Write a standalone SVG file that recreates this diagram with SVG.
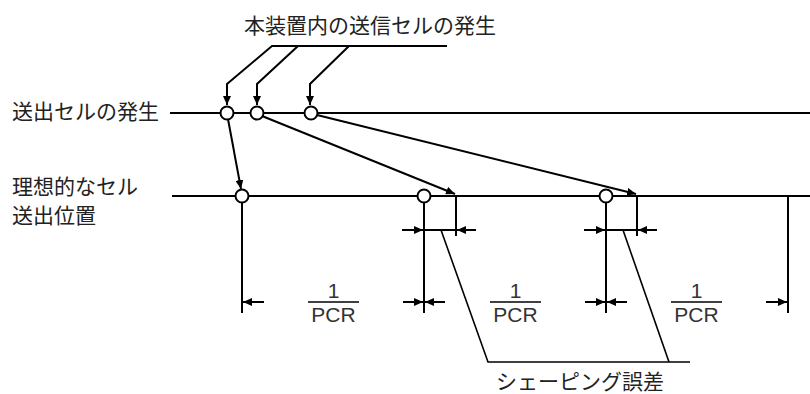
<svg xmlns="http://www.w3.org/2000/svg" width="810" height="394" viewBox="0 0 810 394">
<style>
.ln{stroke:#000;stroke-width:2;fill:none}
.th{stroke:#000;stroke-width:1.6;fill:none}
.ev{stroke:#000;stroke-width:2;fill:#fff}
.jp{font-family:"Noto Sans CJK JP","Noto Sans",sans-serif;font-size:21px;fill:#222}
.num{font-family:"Liberation Sans",Arial,sans-serif;font-size:21px;fill:#333;text-anchor:middle}
</style>
<defs>
<marker id="ah" markerUnits="userSpaceOnUse" markerWidth="10" markerHeight="8" refX="9" refY="4" orient="auto">
<path d="M0,0 L9,4 L0,8 Z" fill="#000"/>
</marker>
</defs>
<g id="labels">
<text class="jp" x="370" y="33" text-anchor="middle">本装置内の送信セルの発生</text>
<text class="jp" x="12" y="119">送出セルの発生</text>
<text class="jp" x="12" y="194">理想的なセル</text>
<text class="jp" x="12" y="223">送出位置</text>
<text class="jp" x="580" y="389" text-anchor="middle">シェーピング誤差</text>
</g>
<g id="connectors">
<line class="ln" x1="170" y1="113" x2="810" y2="113"/>
<line class="ln" x1="172" y1="196" x2="810" y2="196"/>
<polyline class="ln" points="447,46 272,46 227,84 227,105" marker-end="url(#ah)"/>
<polyline class="ln" points="298,46 257,84 257,105" marker-end="url(#ah)"/>
<polyline class="ln" points="349,46 310,84 310,105" marker-end="url(#ah)"/>
<line class="ln" x1="228" y1="119" x2="241" y2="189" marker-end="url(#ah)"/>
<line class="ln" x1="262" y1="116" x2="455" y2="194" marker-end="url(#ah)"/>
<line class="ln" x1="317" y1="115" x2="636" y2="194" marker-end="url(#ah)"/>
<line class="ln" x1="242" y1="202" x2="242" y2="313"/>
<line class="ln" x1="424" y1="202" x2="424" y2="313"/>
<line class="ln" x1="606" y1="202" x2="606" y2="313"/>
<line class="ln" x1="788" y1="196" x2="788" y2="313"/>
<line class="ln" x1="456" y1="196" x2="456" y2="236"/>
<line class="ln" x1="637" y1="196" x2="637" y2="236"/>
<line class="ln" x1="424" y1="230" x2="456" y2="230"/>
<line class="ln" x1="606" y1="230" x2="637" y2="230"/>
<line class="ln" x1="402" y1="230" x2="423" y2="230" marker-end="url(#ah)"/>
<line class="ln" x1="476" y1="230" x2="457" y2="230" marker-end="url(#ah)"/>
<line class="ln" x1="584" y1="230" x2="605" y2="230" marker-end="url(#ah)"/>
<line class="ln" x1="657" y1="230" x2="638" y2="230" marker-end="url(#ah)"/>
<line class="ln" x1="264" y1="302" x2="243" y2="302" marker-end="url(#ah)"/>
<line class="ln" x1="403" y1="302" x2="423" y2="302" marker-end="url(#ah)"/>
<line class="ln" x1="445" y1="302" x2="425" y2="302" marker-end="url(#ah)"/>
<line class="ln" x1="585" y1="302" x2="605" y2="302" marker-end="url(#ah)"/>
<line class="ln" x1="627" y1="302" x2="607" y2="302" marker-end="url(#ah)"/>
<line class="ln" x1="766" y1="302" x2="787" y2="302" marker-end="url(#ah)"/>
<polyline class="th" points="441,230 488,362 690,362"/>
<line class="th" x1="623" y1="230" x2="669" y2="362"/>
</g>
<g id="sent-cells">
<circle class="ev" cx="227" cy="113" r="6.5"/>
<circle class="ev" cx="257" cy="113" r="6.5"/>
<circle class="ev" cx="311" cy="113" r="6.5"/>
</g>
<g id="ideal-cells">
<circle class="ev" cx="242" cy="196" r="6.5"/>
<circle class="ev" cx="424" cy="196" r="6.5"/>
<circle class="ev" cx="606" cy="196" r="6.5"/>
</g>
<g id="interval1">
<line class="th" x1="308" y1="302" x2="359" y2="302"/>
<text class="num" x="333.5" y="298">1</text>
<text class="num" x="333.5" y="322">PCR</text>
</g>
<g id="interval2">
<line class="th" x1="490" y1="302" x2="541" y2="302"/>
<text class="num" x="515.5" y="298">1</text>
<text class="num" x="515.5" y="322">PCR</text>
</g>
<g id="interval3">
<line class="th" x1="671" y1="302" x2="722" y2="302"/>
<text class="num" x="696.5" y="298">1</text>
<text class="num" x="696.5" y="322">PCR</text>
</g>
</svg>
